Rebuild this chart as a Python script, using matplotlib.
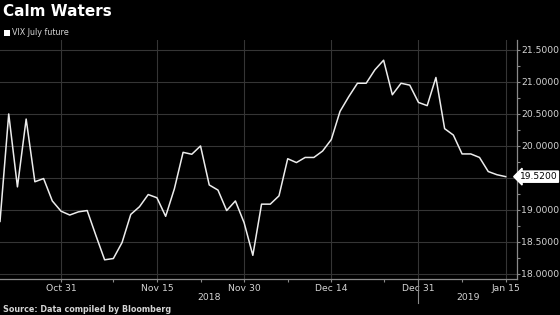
import matplotlib
matplotlib.use("Agg")
import matplotlib.pyplot as plt
import matplotlib.transforms as mtransforms
from matplotlib.patches import Rectangle

# VIX July future, one point per trading day (Oct 22, 2018 .. Jan 15, 2019)
vix = [18.82, 20.50, 19.36, 20.42, 19.44, 19.49, 19.14, 18.98, 18.92, 18.97,
       18.99, 18.60, 18.22, 18.24, 18.49, 18.93, 19.05, 19.24, 19.19, 18.90,
       19.33, 19.90, 19.87, 20.00, 19.39, 19.31, 18.99, 19.14, 18.80, 18.29,
       19.09, 19.09, 19.22, 19.80, 19.74, 19.82, 19.82, 19.92, 20.10, 20.54,
       20.77, 20.98, 20.98, 21.19, 21.34, 20.80, 20.98, 20.95, 20.68, 20.63,
       21.07, 20.27, 20.17, 19.875, 19.875, 19.82, 19.60, 19.55, 19.52]
x_major = [7, 18, 28, 38, 48, 58]
x_labels = ["Oct 31", "Nov 15", "Nov 30", "Dec 14", "Dec 31", "Jan 15"]
x_minor = [13, 23, 33, 44, 53]
y_major = [18.0, 18.5, 19.0, 19.5, 20.0, 20.5, 21.0, 21.5]
years = ["2018", "2019"]
year_pos = [24, 53.65]
year_break = 48
last_val = vix[-1]

grid_c = "#353535"
axis_c = "#8a8a8a"
text_c = "#d4d4d4"

fig = plt.figure(figsize=(5.6, 3.15), dpi=100, facecolor="black")
ax = fig.add_axes([0.0, 36 / 315, 517 / 560, 239 / 315], facecolor="black")

ax.plot(range(len(vix)), vix, color="#ececec", lw=1.1, zorder=3)

ax.set_xlim(0, 59.3)
ax.set_ylim(17.92, 21.656)

ax.set_xticks(x_major)
ax.set_xticklabels(x_labels)
ax.set_xticks(x_minor, minor=True)
ax.set_yticks(y_major)
ax.set_yticklabels(["%.4f" % v if v != 19.5 else "" for v in y_major])
ax.set_yticks([v + 0.25 for v in y_major[:-1]], minor=True)
ax.yaxis.tick_right()

ax.grid(True, which="major", color=grid_c, lw=0.8)
for s in ["top", "left"]:
    ax.spines[s].set_visible(False)
for s in ["bottom", "right"]:
    ax.spines[s].set_color(axis_c)
    ax.spines[s].set_linewidth(0.9)

ax.tick_params(axis="both", which="both", colors=axis_c, length=2, width=0.8,
               labelcolor=text_c, labelsize=6.7)
ax.tick_params(axis="x", pad=1.5)
ax.tick_params(axis="y", pad=1)

# last value tag
ax.text(59.3 + 0.3, last_val, "%.4f" % last_val, ha="left", va="center",
        fontsize=6.6, color="black", clip_on=False,
        bbox=dict(boxstyle="larrow,pad=0.12", fc="white", ec="white"), zorder=5)

# years below the date labels
tr = mtransforms.blended_transform_factory(ax.transData, fig.transFigure)
for yr, xp in zip(years, year_pos):
    fig.text(xp, (315 - 297.7) / 315, yr, transform=tr, ha="center", va="center",
             fontsize=6.7, color=text_c)
ax.plot([year_break, year_break], [0, -0.1], color=axis_c, lw=0.8, clip_on=False,
        transform=mtransforms.blended_transform_factory(ax.transData, ax.transAxes))

fig.text(3 / 560, (315 - 11) / 315, "Calm Waters", fontsize=11, fontweight="bold",
         color="white", ha="left", va="center")
fig.patches.append(Rectangle((4 / 560, (315 - 35.5) / 315), 5.5 / 560, 5.5 / 315,
                             transform=fig.transFigure, fc="white", ec="none"))
fig.text(12 / 560, (315 - 32.5) / 315, "VIX July future", fontsize=5.8,
         color=text_c, ha="left", va="center")
fig.text(3 / 560, (315 - 310) / 315, "Source: Data compiled by Bloomberg",
         fontsize=5.8, fontweight="bold", color=text_c, ha="left", va="center")

fig.savefig("out.png", dpi=100, facecolor="black")
